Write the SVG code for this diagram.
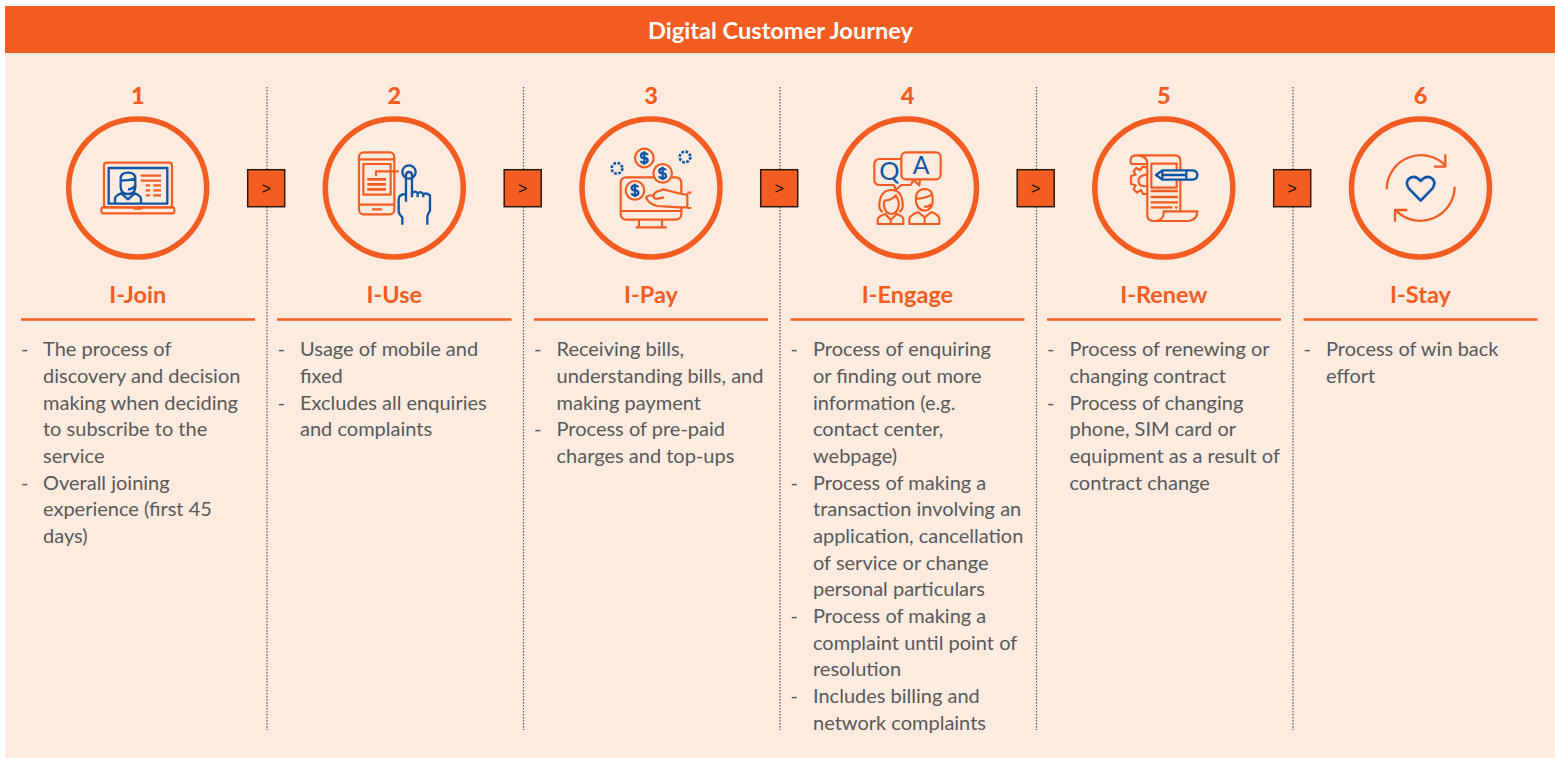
<svg xmlns="http://www.w3.org/2000/svg" width="1555" height="758" viewBox="0 0 1555 758">
<style>
text{font-family:"Lato","Liberation Sans",sans-serif}
.t{font-size:20px;fill:#58595b}
.n{font-size:23.500px;font-weight:900;fill:#f45d22;text-anchor:middle}
.h{font-size:23.500px;font-weight:700;fill:#f45d22;text-anchor:middle}
.ring{fill:none;stroke:#f45d22;stroke-width:5.500}
.rule{stroke:#f45d22;stroke-width:2.500}
.o{fill:none;stroke:#f45d22;stroke-width:6.500;stroke-linejoin:round}
.b{fill:none;stroke:#0f55a5;stroke-width:7;stroke-linejoin:round}
.dot{stroke:#555;stroke-width:1.200;stroke-dasharray:1.500 1.500;fill:none}
.box{fill:#f45d22;stroke:#2a1a12;stroke-width:1.500}
.gt{font-size:16px;fill:#111;text-anchor:middle;font-family:"Liberation Sans",sans-serif}
</style>
<rect x="5" y="53" width="1550" height="705" fill="#fdebdf"/>
<g id="title">
<rect x="5" y="6" width="1550" height="47" fill="#f45d22"/>
<text x="780.500" y="38.500" text-anchor="middle" font-size="23.600" font-weight="700" fill="#fff">Digital Customer Journey</text>
</g>
<g id="connectors">
<path class="dot" d="M267 87V730M523.500 87V730M780 87V730M1036.500 87V730M1293 87V730"/>
<rect class="box" x="247.700" y="169.700" width="37" height="37"/><text class="gt" x="266.200" y="193.500">&gt;</text>
<rect class="box" x="504.200" y="169.700" width="37" height="37"/><text class="gt" x="522.700" y="193.500">&gt;</text>
<rect class="box" x="760.700" y="169.700" width="37" height="37"/><text class="gt" x="779.200" y="193.500">&gt;</text>
<rect class="box" x="1017.200" y="169.700" width="37" height="37"/><text class="gt" x="1035.700" y="193.500">&gt;</text>
<rect class="box" x="1273.700" y="169.700" width="37" height="37"/><text class="gt" x="1292.200" y="193.500">&gt;</text>
</g>

<g id="node-1">
<text class="n" x="137.700" y="104">1</text>
<circle class="ring" cx="137.700" cy="188" r="69"/>
<g transform="translate(60 80) scale(.3333)">
<rect class="o" x="132" y="248" width="204" height="134" rx="8"/>
<rect class="o" x="124" y="382" width="219" height="18" rx="6"/>
<path class="o" d="M220 386H246"/>
<rect class="b" x="146" y="264" width="176" height="107"/>
<path class="b" d="M182 322V296Q182 278 204 278Q226 278 226 296V322Q224 342 204 342Q184 342 182 322ZM182 302Q206 302 226 296M204 328Q218 328 226 316M165 368V356Q166 346 184 340L204 358L224 340Q242 346 243 356V368"/>
<path class="o" d="M242 287H303M242 302H303M257 316H270M280 316H303M257 331H270M280 331H303M257 346H270M280 346H303"/>
</g>
<text class="h" x="137.700" y="303">I-Join</text>
<path class="rule" d="M21 319.500H255"/>
<text class="t" x="21" y="356">-</text><text class="t" x="43" y="356">The process of</text>
<text class="t" x="43" y="382.700">discovery and decision</text>
<text class="t" x="43" y="410">making when deciding</text>
<text class="t" x="43" y="436.200">to subscribe to the</text>
<text class="t" x="43" y="462.900">service</text>
<text class="t" x="21" y="489.600">-</text><text class="t" x="43" y="489.600">Overall joining</text>
<text class="t" x="43" y="516.300">experience (first 45</text>
<text class="t" x="43" y="543">days)</text>
</g>

<g id="node-2">
<text class="n" x="394.300" y="104">2</text>
<circle class="ring" cx="394.300" cy="188" r="69"/>
<g transform="translate(310 110) scale(.3333)">
<rect class="o" x="147" y="127" width="106" height="186" rx="14"/>
<path class="o" d="M147 148H253M147 284H253M186 298H216"/>
<rect class="o" x="160" y="162" width="82" height="92"/>
<path class="o" style="stroke-width:8" d="M172 208H228M172 223H228M172 238H228"/>
<path class="o" d="M198 198V184H266"/>
<circle class="b" cx="297" cy="186" r="20"/>
<path class="b" d="M288 275V196Q288 186 297 186Q306 186 306 196V262M277 344V322Q266 312 266 304V268Q266 252 288 252M306 250Q315 240 323 250V262M323 250Q331 242 340 252V262M340 252Q350 248 360 256V302Q352 314 352 322V344"/>
</g>
<text class="h" x="394.300" y="303">I-Use</text>
<path class="rule" d="M277 319.500H511.500"/>
<text class="t" x="277.500" y="356">-</text><text class="t" x="300" y="356">Usage of mobile and</text>
<text class="t" x="300" y="382.700">fixed</text>
<text class="t" x="277.500" y="410">-</text><text class="t" x="300" y="410">Excludes all enquiries</text>
<text class="t" x="300" y="436.200">and complaints</text>
</g>

<g id="node-3">
<text class="n" x="651" y="104">3</text>
<circle class="ring" cx="651" cy="188" r="69"/>
<g transform="translate(570 110) scale(.3333)">
<rect class="o" x="152" y="202" width="182" height="127" rx="16"/>
<path class="o" d="M152 303H334M207 329V352M276 329V352M197 352H290"/>
<path class="o" style="fill:#fdebdf" d="M228 262Q236 252 250 258Q254 244 270 242L280 238L335 252L352 254V292H330L262 288Q236 282 228 262Z"/>
<path class="o" d="M250 258Q252 268 264 266L282 262M352 248H364M352 294H364"/>
<circle class="o" cx="223" cy="144" r="28" style="fill:#fdebdf"/>
<circle class="o" cx="278" cy="190" r="28" style="fill:#fdebdf"/>
<circle class="o" cx="195" cy="241" r="28" style="fill:#fdebdf"/>
<path class="b" d="M233 135Q230 129 223 129Q213 129 213 137Q213 144 223 144Q233 144 233 151Q233 159 223 159Q215 159 212 153M223 124V164"/>
<path class="b" d="M288 181Q285 175 278 175Q268 175 268 183Q268 190 278 190Q288 190 288 197Q288 205 278 205Q270 205 267 199M278 170V210"/>
<path class="b" d="M205 232Q202 226 195 226Q185 226 185 234Q185 241 195 241Q205 241 205 248Q205 256 195 256Q187 256 184 250M195 221V261"/>
<circle class="b" cx="141" cy="175" r="16" stroke-dasharray="8 4.500" style="stroke-width:8"/>
<circle class="b" cx="345" cy="141" r="16" stroke-dasharray="8 4.500" style="stroke-width:8"/>
</g>
<text class="h" x="651" y="303">I-Pay</text>
<path class="rule" d="M534 319.500H768"/>
<text class="t" x="534" y="356">-</text><text class="t" x="556.500" y="356">Receiving bills,</text>
<text class="t" x="556.500" y="382.700">understanding bills, and</text>
<text class="t" x="556.500" y="410">making payment</text>
<text class="t" x="534" y="436.200">-</text><text class="t" x="556.500" y="436.200">Process of pre-paid</text>
<text class="t" x="556.500" y="462.900">charges and top-ups</text>
</g>

<g id="node-4">
<text class="n" x="907.500" y="104">4</text>
<circle class="ring" cx="907.500" cy="188" r="69"/>
<g transform="translate(830 110) scale(.3333)">
<path class="o" d="M214 147H150Q133 147 133 164V210Q133 225 150 225H192L197 240L214 225H238Q246 225 248 212"/>
<rect class="o" x="214" y="127" width="118" height="81" rx="14"/>
<path class="o" d="M248 208L268 226L270 208"/>
<text x="178" y="209" text-anchor="middle" font-size="76" fill="#0f55a5">Q</text>
<text x="273" y="192" text-anchor="middle" font-size="74" fill="#0f55a5">A</text>
<path class="o" d="M158 306Q146 300 148 282Q152 240 184 240Q216 240 218 282Q220 300 208 306M162 272Q184 272 198 256Q204 268 206 276M162 272V288Q166 310 184 312Q202 310 206 288V276M143 342V328Q146 318 166 312L182 330L200 312Q220 318 220 328V342ZM182 330V342"/>
<path class="o" d="M258 270Q256 238 284 237Q308 238 308 262V276Q306 300 284 302Q262 300 258 276ZM258 266Q282 266 306 254M282 290Q296 292 304 282M238 342V326Q240 316 264 306L284 322L304 306Q326 314 328 326V342ZM284 322V342"/>
</g>
<text class="h" x="907.500" y="303">I-Engage</text>
<path class="rule" d="M790.500 319.500H1024.500"/>
<text class="t" x="790.500" y="356">-</text><text class="t" x="813" y="356">Process of enquiring</text>
<text class="t" x="813" y="382.700">or finding out more</text>
<text class="t" x="813" y="410">information (e.g.</text>
<text class="t" x="813" y="436.200">contact center,</text>
<text class="t" x="813" y="462.900">webpage)</text>
<text class="t" x="790.500" y="489.600">-</text><text class="t" x="813" y="489.600">Process of making a</text>
<text class="t" x="813" y="516.300">transaction involving an</text>
<text class="t" x="813" y="543">application, cancellation</text>
<text class="t" x="813" y="569.800">of service or change</text>
<text class="t" x="813" y="596">personal particulars</text>
<text class="t" x="790.500" y="623.200">-</text><text class="t" x="813" y="623.200">Process of making a</text>
<text class="t" x="813" y="649.900">complaint until point of</text>
<text class="t" x="813" y="676">resolution</text>
<text class="t" x="790.500" y="703.400">-</text><text class="t" x="813" y="703.400">Includes billing and</text>
<text class="t" x="813" y="730.100">network complaints</text>
</g>

<g id="node-5">
<text class="n" x="1163.800" y="104">5</text>
<circle class="ring" cx="1163.800" cy="188" r="69"/>
<g transform="translate(1085 110) scale(.3333)">
<path class="o" d="M137 162V150Q137 136 155 136H268Q286 136 286 152V304M137 162H187M155 136Q187 136 187 162V316Q187 333 206 333H310Q337 330 337 304H236V312Q234 333 206 333"/>
<path class="o" d="M187 172L172 170L166 181L154 174L146 184L152 194L138 198V222L152 226L146 238L156 248L168 240L174 252H187M187 194Q172 194 162 204Q158 218 166 226Q176 230 187 228"/>
<rect class="o" x="199" y="161" width="76" height="72"/>
<path class="o" style="stroke-width:7" d="M197 243H279M197 261H279M197 277H279M197 292H262M270 292H278"/>
<path style="fill:#fdebdf" class="b" d="M213 195L232 181H320Q337 181 337 195Q337 209 320 209H232Z"/>
<path class="b" d="M232 195H302M304 181V209M232 181V209"/>
</g>
<text class="h" x="1163.800" y="303">I-Renew</text>
<path class="rule" d="M1047 319.500H1281"/>
<text class="t" x="1047" y="356">-</text><text class="t" x="1069.500" y="356">Process of renewing or</text>
<text class="t" x="1069.500" y="382.700">changing contract</text>
<text class="t" x="1047" y="410">-</text><text class="t" x="1069.500" y="410">Process of changing</text>
<text class="t" x="1069.500" y="436.200">phone, SIM card or</text>
<text class="t" x="1069.500" y="462.900">equipment as a result of</text>
<text class="t" x="1069.500" y="489.600">contract change</text>
</g>

<g id="node-6">
<text class="n" x="1420.500" y="104">6</text>
<circle class="ring" cx="1420.500" cy="188" r="69"/>
<g transform="translate(1340 110) scale(.3333)">
<path class="o" style="stroke-width:7" d="M140 238A103 103 0 0 1 316 166M316 133V170H282M344 230A103 103 0 0 1 168 302M165 335V300H202"/>
<path class="b" style="stroke-width:8" d="M242 272L207 236Q195 218 206 207Q224 192 242 213Q260 192 278 207Q289 218 277 236Z"/>
</g>
<text class="h" x="1420.500" y="303">I-Stay</text>
<path class="rule" d="M1303.500 319.500H1537.500"/>
<text class="t" x="1303.500" y="356">-</text><text class="t" x="1326" y="356">Process of win back</text>
<text class="t" x="1326" y="382.700">effort</text>
</g>
</svg>
